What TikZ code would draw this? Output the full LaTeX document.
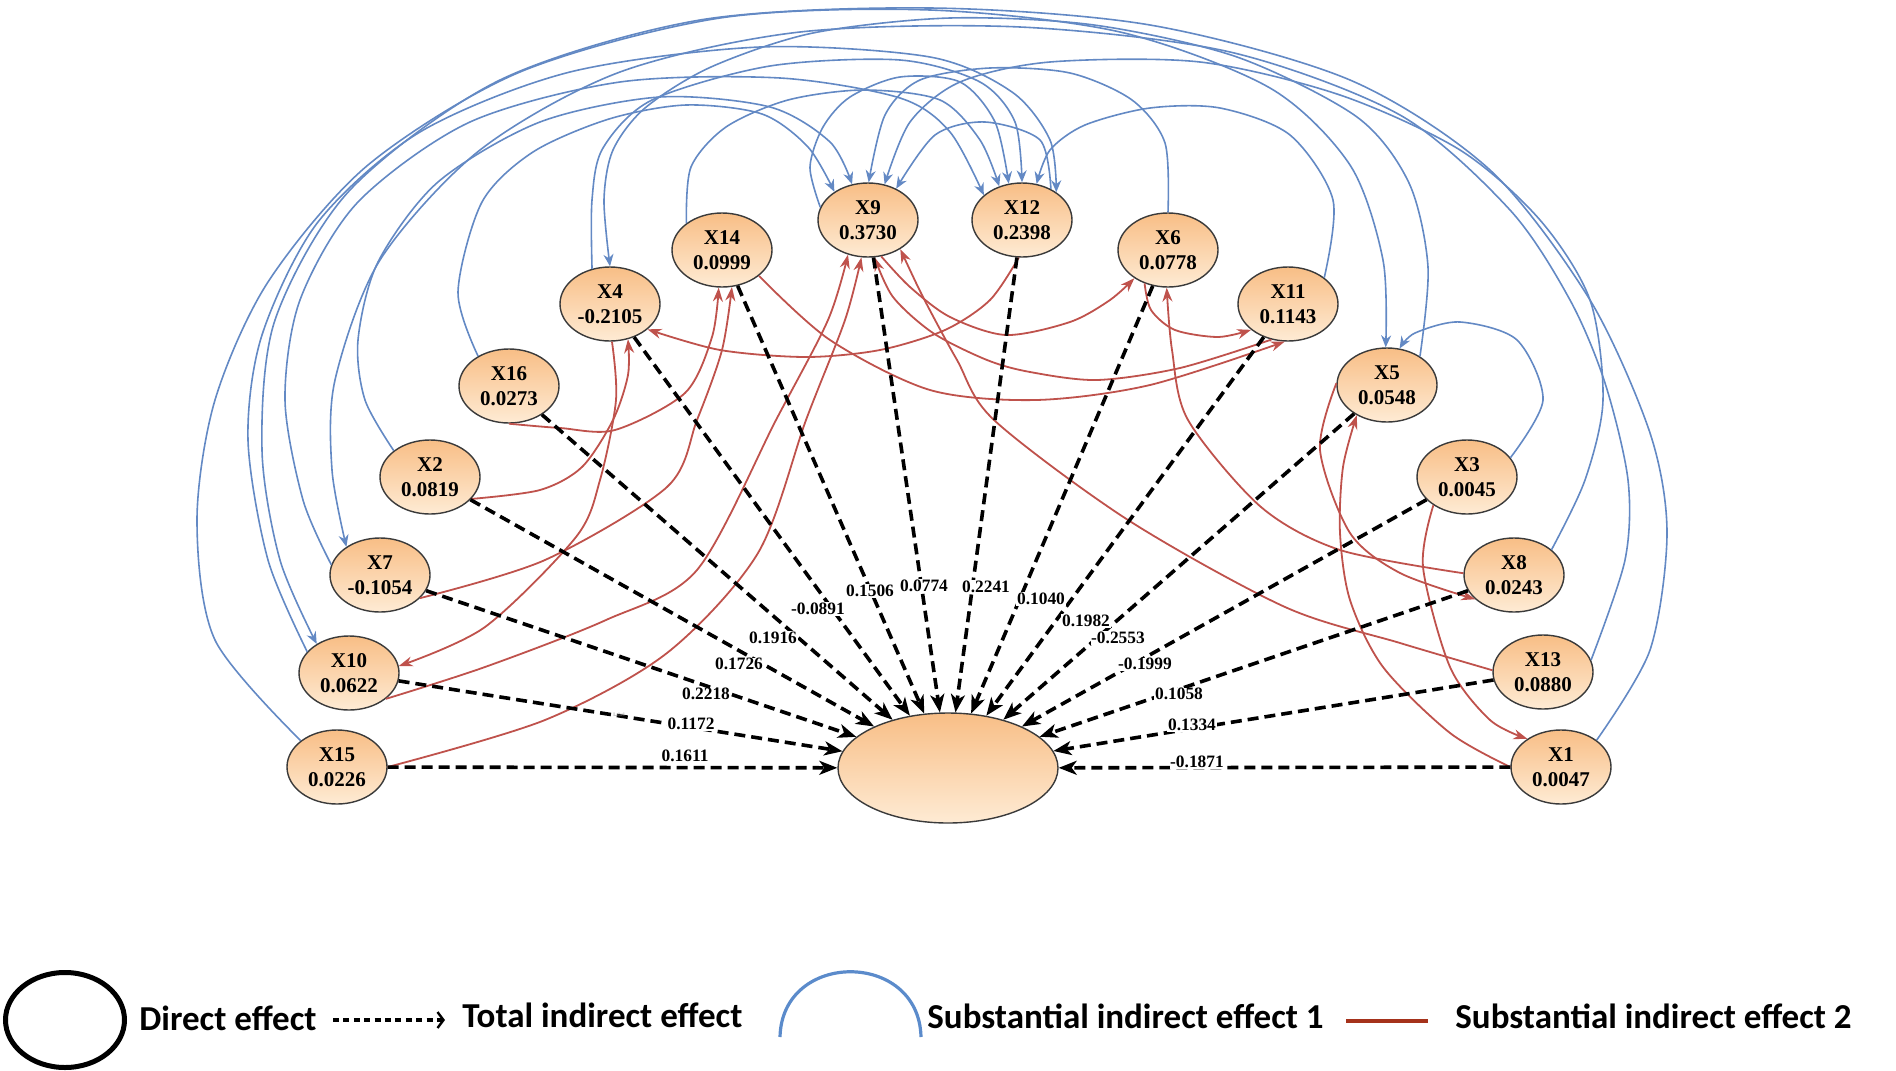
\documentclass[tikz,border=0pt]{standalone}
\usepackage{fontspec}
\setmainfont{Liberation Serif}
\newfontfamily\legfont{Carlito}
\usetikzlibrary{arrows.meta,shapes.geometric}

\definecolor{bluec}{HTML}{6389C4}
\definecolor{redc}{HTML}{BF524C}
\definecolor{legred}{HTML}{A5321B}
\definecolor{legblue}{HTML}{5B8BCB}
\definecolor{ftop}{HTML}{F8BE86}
\definecolor{fbot}{HTML}{FEEBD4}
\definecolor{bord}{HTML}{3A3A3A}

\tikzset{
  var/.style={ellipse, draw=bord, line width=0.7pt, top color=ftop, bottom color=fbot,
    minimum width=50pt, minimum height=37pt, inner sep=0pt, align=center,
    font=\fontsize{10.5}{12.5}\selectfont\bfseries},
  dep/.style={ellipse, draw=bord, line width=0.7pt, top color=ftop, bottom color=fbot,
    minimum width=110pt, minimum height=55pt},
  tot/.style={line width=1.8pt, dash pattern=on 5.5pt off 3pt,
    -{Stealth[length=9pt,width=7pt,inset=2.5pt]}},
  bl/.style={draw=bluec, line width=0.8pt, -{Stealth[length=6pt,width=5pt]}},
  rd/.style={draw=redc, line width=0.9pt, -{Stealth[length=7pt,width=5pt]}},
  lab/.style={font=\fontsize{8.7}{9}\selectfont\bfseries, inner sep=0.3pt, fill=white},
  leg/.style={anchor=base west, inner sep=0pt, font=\legfont\bfseries\fontsize{17.5}{20}\selectfont},
}

\begin{document}
\begin{tikzpicture}[x=0.5pt,y=-0.5pt]
\useasboundingbox (0,0) rectangle (1896,1071);

% nodes
\node[var] (X9)  at (868,220)  {X9\\0.3730};
\node[var] (X12) at (1022,220) {X12\\0.2398};
\node[var] (X14) at (722,250)  {X14\\0.0999};
\node[var] (X6)  at (1168,250) {X6\\0.0778};
\node[var] (X4)  at (610,304)  {X4\\-0.2105};
\node[var] (X11) at (1288,304) {X11\\0.1143};
\node[var] (X16) at (509,386)  {X16\\0.0273};
\node[var] (X5)  at (1387,385) {X5\\0.0548};
\node[var] (X2)  at (430,477)  {X2\\0.0819};
\node[var] (X3)  at (1467,477) {X3\\0.0045};
\node[var] (X7)  at (380,575)  {X7\\-0.1054};
\node[var] (X8)  at (1514,575) {X8\\0.0243};
\node[var] (X10) at (349,673)  {X10\\0.0622};
\node[var] (X13) at (1543,672) {X13\\0.0880};
\node[var] (X15) at (337,767)  {X15\\0.0226};
\node[var] (X1)  at (1561,767) {X1\\0.0047};
\node[dep] (Y)   at (948,768)  {};

% substantial indirect effect 1 (blue)
\draw[bl] plot[smooth] coordinates {(X15.144) (215,640) (197,520) (215,400) (268,282) (368,165) (520,72) (720,18) (930,10) (1120,32) (1270,88) (1350,165) (1383,260) (X5.92)};
\draw[bl] plot[smooth] coordinates {(X10.153) (268,560) (248,440) (262,335) (318,222) (420,132) (570,72) (760,47) (930,57) (1012,92) (1050,140) (X12.39)};
\draw[bl] plot[smooth] coordinates {(X7.168) (303,500) (285,400) (300,300) (358,202) (470,122) (620,82) (780,78) (900,98) (950,132) (X12.147)};
\draw[bl] plot[smooth] coordinates {(X2.144) (365,400) (358,340) (378,262) (438,182) (540,122) (660,97) (770,107) (830,142) (X9.114)};
\draw[bl] plot[smooth] coordinates {(X16.136) (458,292) (482,202) (533,152) (609,119) (686,105) (762,114) (808,147) (X9.140)};
\draw[bl] plot[smooth] coordinates {(X4.117) (592,200) (603,148) (652,100) (770,66) (900,60) (980,82) (1015,122) (X12.90)};
\draw[bl] plot[smooth] coordinates {(X5.41) (1428,267) (1409,183) (1357,117) (1237,57) (1094,25) (950,18) (813,33) (711,67) (645,108) (613,150) (604,200) (X4.90)};
\draw[bl] plot[smooth] coordinates {(X14.143) (691,167) (726,127) (788,100) (864,90) (940,100) (980,140) (X12.124)};
\draw[bl] plot[smooth] coordinates {(X9.165) (810,167) (823,127) (850,97) (900,77) (960,82) (995,122) (X12.110)};
\draw[bl] plot[smooth] coordinates {(X12.47) (1040,140) (985,122) (935,135) (X9.48)};
\draw[bl] plot[smooth] coordinates {(X6.90) (1165,143) (1132,100) (1070,73) (990,68) (920,80) (885,115) (X9.89)};
\draw[bl] plot[smooth] coordinates {(X11.36) (1333,200) (1290,135) (1220,108) (1150,108) (1085,125) (1050,150) (X12.68)};
\draw[bl] plot[smooth] coordinates {(X3.24) (1543,400) (1517,340) (1460,322) (1415,333) (X5.71)};
\draw[bl] plot[smooth] coordinates {(X8.34) (1585,480) (1603,400) (1590,300) (1540,220) (1460,150) (1340,95) (1200,62) (1050,62) (960,82) (910,122) (X9.65)};
\draw[bl] plot[smooth] coordinates {(X13.14) (1625,560) (1628,480) (1605,383) (1570,300) (1510,210) (1400,115) (1230,52) (1020,27) (800,32) (620,72) (480,150) (380,260) (335,380) (332,470) (X7.140)};
\draw[bl] plot[smooth] coordinates {(X1.37) (1650,650) (1667,533) (1650,433) (1590,300) (1490,170) (1350,80) (1150,25) (930,8) (700,20) (500,80) (350,190) (275,320) (262,450) (280,560) (X10.138)};

% substantial indirect effect 2 (red)
\draw[rd] plot[smooth] coordinates {(X16.-90) (560,428) (615,430) (685,393) (712,337) (X14.-95)};
\draw[rd] plot[smooth] coordinates {(X2.-28) (540,490) (582,467) (613,420) (628,375) (X4.-63)};
\draw[rd] plot[smooth] coordinates {(X4.-87) (616,400) (600,480) (576,537) (485,627) (X10.8)};
\draw[rd] plot[smooth] coordinates {(X7.-30) (545,560) (667,487) (697,420) (722,350) (X14.-75)};
\draw[rd] plot[smooth] coordinates {(X10.-35) (485,667) (606,620) (697,570) (776,420) (828,320) (X9.-120)};
\draw[rd] plot[smooth] coordinates {(X15.0) (545,720) (667,653) (758,553) (806,420) (845,320) (X9.-100)};
\draw[rd] plot[smooth] coordinates {(X12.-95) (990,300) (945,330) (880,350) (806,357) (720,350) (X4.-34)};
\draw[rd] plot[smooth] coordinates {(X9.-70) (910,287) (950,317) (1006,335) (1070,322) (1110,300) (X6.-140)};
\draw[rd] plot[smooth] coordinates {(X11.-115) (1180,368) (1097,380) (1030,372) (987,360) (933,333) (893,297) (X9.-80)};
\draw[rd] plot[smooth] coordinates {(X14.-35) (830,340) (930,390) (1036,400) (1150,385) (X11.-95)};
\draw[rd] plot[smooth] coordinates {(X6.-125) (1151,310) (1175,330) (1218,337) (X11.-145)};
\draw[rd] plot[smooth] coordinates {(X13.178) (1400,643) (1285,607) (1128,520) (994,420) (957,360) (923,297) (X9.-42)};
\draw[rd] plot[smooth] coordinates {(X8.178) (1340,550) (1261,507) (1188,420) (1172,350) (X6.-92)};
\draw[rd] plot[smooth] coordinates {(X5.178) (1320,450) (1350,533) (1400,573) (X8.-148)};
\draw[rd] plot[smooth] coordinates {(X1.180) (1450,733) (1383,667) (1350,600) (1340,533) (1343,467) (X5.-135)};
\draw[rd] plot[smooth] coordinates {(X3.-140) (1423,567) (1450,667) (1490,720) (X1.140)};

% total indirect effects (dashed)
\foreach \n in {X15,X10,X7,X2,X16,X4,X14,X9,X12,X6,X11,X5,X3,X8,X13,X1}
  \draw[tot] (\n) -- (Y);

% labels
\node[lab] (l15) at (685,756) {0.1611};
\node[lab] (l10) at (691,724) {0.1172};
\node[lab] (l7)  at (706,694) {0.2218};
\node[lab] (l2)  at (739,664) {0.1726};
\node[lab] (l16) at (773,638) {0.1916};
\node[lab] (l4)  at (818,609) {-0.0891};
\node[lab] (l14) at (870,591) {0.1506};
\node[lab] (l9)  at (924,586) {0.0774};
\node[lab] (l12) at (986,587) {0.2241};
\node[lab] (l6)  at (1041,599) {0.1040};
\node[lab] (l11) at (1086,621) {0.1982};
\node[lab] (l5)  at (1118,638) {-0.2553};
\node[lab] (l3)  at (1145,664) {-0.1999};
\node[lab] (l8)  at (1179,694) {0.1058};
\node[lab] (l13) at (1192,725) {0.1334};
\node[lab] (l1)  at (1197,762) {-0.1871};
\node[font=\fontsize{2.5}{3}\selectfont, text=gray, inner sep=0pt] (tiny) at (619,715) {Label};

% legend
\node[ellipse, draw=black, line width=2.5pt, minimum width=59.5pt, minimum height=47.5pt, inner sep=0pt] (legE) at (65,1020) {};
\node[leg] (legT1) at (139,1030) {Direct effect};
\coordinate (legA1) at (333,1020);
\coordinate (legA2) at (445,1020);
\draw[line width=2pt, dash pattern=on 3pt off 2.2pt, -{Straight Barb[length=3pt,width=8pt,line width=1.2pt]}] (legA1) -- (legA2);
\node[leg] (legT2) at (462,1027) {Total indirect effect};
\coordinate (legB1) at (780,1037);
\coordinate (legB2) at (921,1037);
\draw[draw=legblue, line width=1.6pt] (legB1) .. controls (782,950) and (919,950) .. (legB2);
\node[leg] (legT3) at (927,1028) {Substantial indirect effect 1};
\coordinate (legC1) at (1346,1021);
\coordinate (legC2) at (1428,1021);
\draw[draw=legred, line width=2.2pt] (legC1) -- (legC2);
\node[leg] (legT4) at (1455,1028) {Substantial indirect effect 2};
\end{tikzpicture}
\end{document}
